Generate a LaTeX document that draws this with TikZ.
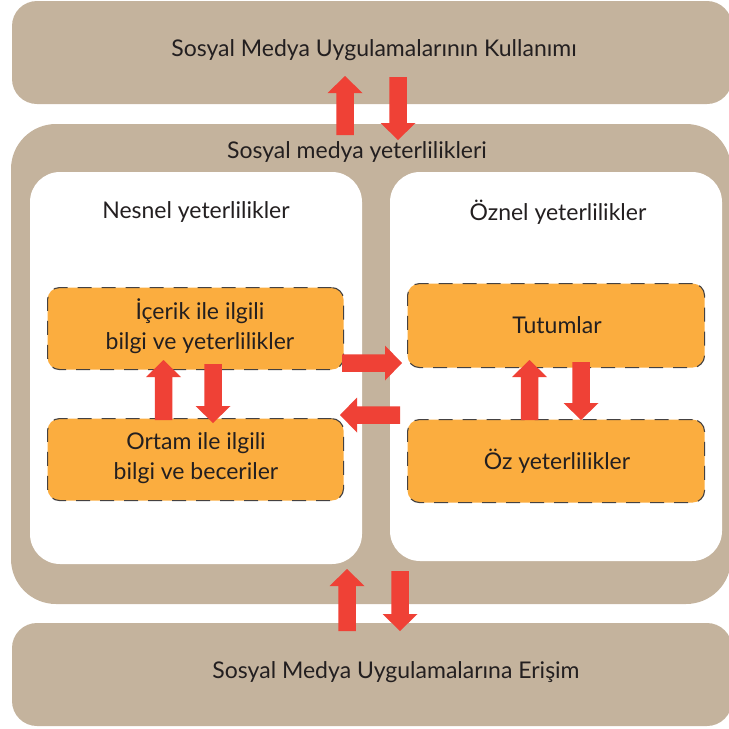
\documentclass[tikz,border=0pt]{standalone}
\usepackage{fontspec}
\setmainfont{Lato}
\definecolor{tan}{HTML}{C4B39D}
\definecolor{orng}{HTML}{FBAD3F}
\definecolor{redarr}{HTML}{EF4136}
\definecolor{txt}{HTML}{231F20}
\tikzset{
  tanbox/.style={fill=tan, draw=none},
  whitebox/.style={fill=white, draw=none, rounded corners=30pt},
  orbox/.style={fill=orng, draw=txt!85, line width=1.1pt, dash pattern=on 14pt off 10pt, rounded corners=12pt},
  lbl/.style={text=txt, font=\fontsize{23}{30}\selectfont, align=center, inner sep=0pt},
  blk/.style={fill=redarr, draw=none}
}
% up arrow: #1 centre x, #2 tip y, #3 bottom y
\newcommand\blkup[3]{\fill[redarr] (#1,#2) -- ++(17.5,17) -- ++(-8.75,0) -- (#1+8.75,#3) -- (#1-8.75,#3) -- (#1-8.75,#2+17) -- ++(-8.75,0) -- cycle;}
% down arrow: #1 centre x, #2 top y, #3 tip y
\newcommand\blkdown[3]{\fill[redarr] (#1,#3) -- ++(17.5,-17) -- ++(-8.75,0) -- (#1+8.75,#2) -- (#1-8.75,#2) -- (#1-8.75,#3-17) -- ++(-8.75,0) -- cycle;}
% right arrow: #1 centre y, #2 left x, #3 tip x
\newcommand\blkright[3]{\fill[redarr] (#3,#1) -- ++(-17,17.5) -- ++(0,-8.75) -- (#2,#1+8.75) -- (#2,#1-8.75) -- (#3-17,#1-8.75) -- ++(0,-8.75) -- cycle;}
% left arrow: #1 centre y, #2 tip x, #3 right x
\newcommand\blkleft[3]{\fill[redarr] (#2,#1) -- ++(17,17.5) -- ++(0,-8.75) -- (#3,#1+8.75) -- (#3,#1-8.75) -- (#2+17,#1-8.75) -- ++(0,-8.75) -- cycle;}
\begin{document}
\begin{tikzpicture}[x=1pt,y=-1pt]
\useasboundingbox (0,0) rectangle (729,729);
% outer tan boxes
\fill[tanbox, rounded corners=25pt] (12,1) rectangle (732,104);
\fill[tanbox, rounded corners=45pt] (11,124) rectangle (731,604);
\fill[tanbox, rounded corners=25pt] (12,623) rectangle (732,726);
% white panels
\fill[whitebox] (30,172) rectangle (362,564);
\fill[whitebox] (390,172) rectangle (722,561);
% orange boxes
\node[orbox, minimum width=296pt, minimum height=82pt, anchor=north west] (ic) at (47,287) {};
\node[orbox, minimum width=296pt, minimum height=82pt, anchor=north west] (or) at (47,418) {};
\node[orbox, minimum width=297pt, minimum height=84pt, anchor=north west] (tu) at (407,283) {};
\node[orbox, minimum width=297pt, minimum height=83pt, anchor=north west] (oz) at (407,419) {};
% labels
\node[lbl] (t1) at (374,50) {Sosyal Medya Uygulamalarının Kullanımı};
\node[lbl] (t2) at (357,152) {Sosyal medya yeterlilikleri};
\node[lbl] (t3) at (196,212) {Nesnel yeterlilikler};
\node[lbl] (t4) at (558,212) {Öznel yeterlilikler};
\node[lbl] (t5) at (200,326) {İçerik ile ilgili\\bilgi ve yeterlilikler};
\node[lbl] (t6) at (196,458) {Ortam ile ilgili\\bilgi ve beceriler};
\node[lbl] (t7) at (557,325) {Tutumlar};
\node[lbl] (t8) at (557,461) {Öz yeterlilikler};
\node[lbl] (t9) at (396,672) {Sosyal Medya Uygulamalarına Erişim};
% arrows
\blkup{345}{76}{135}
\blkdown{398}{77}{140}
\blkup{347}{569}{631}
\blkdown{400}{571}{631}
\blkright{363}{342}{402}
\blkleft{415}{340}{400}
\blkup{163.5}{360}{420}
\blkdown{213}{364}{423}
\blkup{529.5}{360}{420}
\blkdown{581}{362}{420}
\end{tikzpicture}
\end{document}
